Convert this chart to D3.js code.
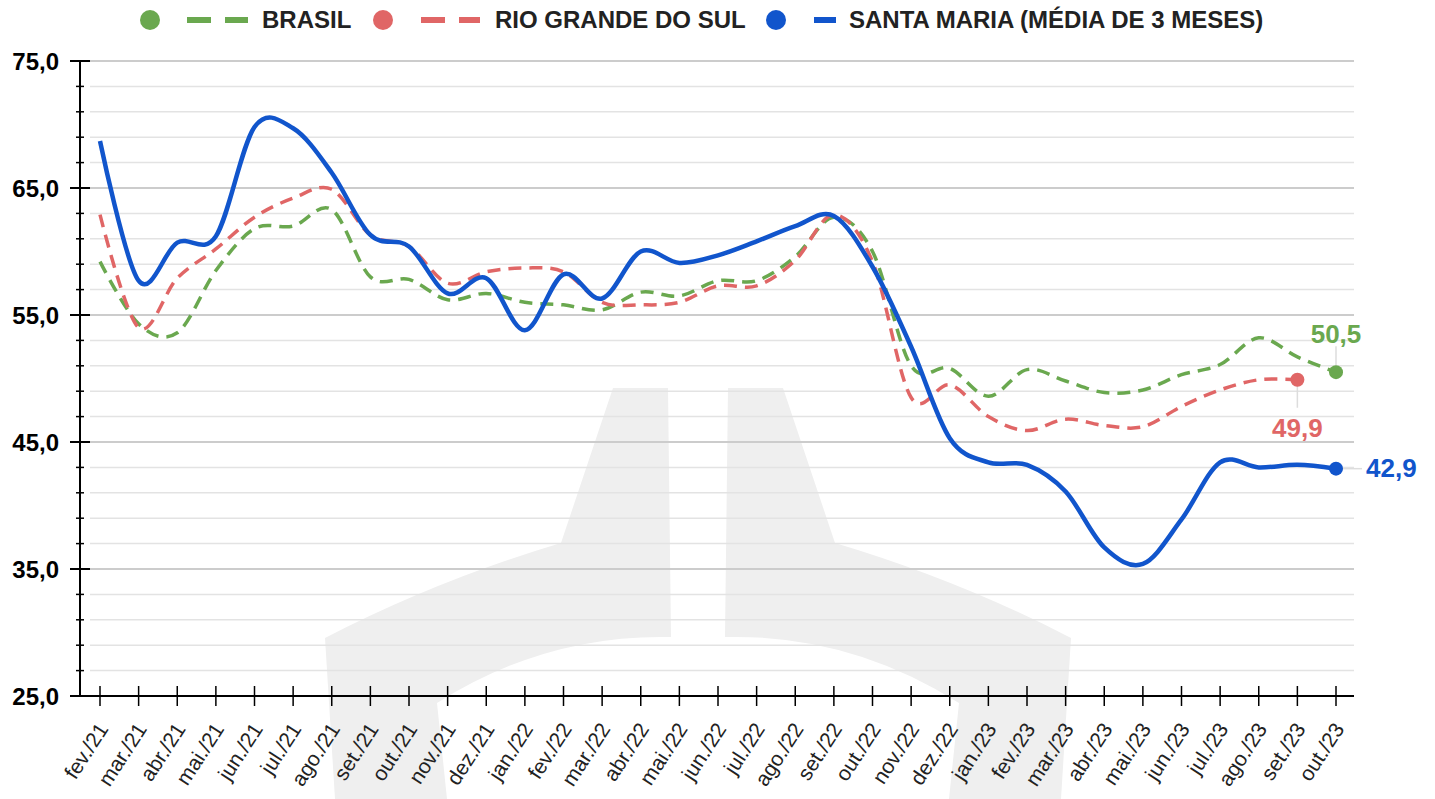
<!DOCTYPE html>
<html>
<head>
<meta charset="utf-8">
<script src="https://cdn.jsdelivr.net/npm/d3@7"></script>
<style>
  body { margin: 0; background: #fff; }
  svg { display: block; font-family: "Liberation Sans", Arial, sans-serif; }
</style>
</head>
<body>
<div id="chart"></div>
<script>
var months = ["fev./21","mar./21","abr./21","mai./21","jun./21","jul./21","ago./21","set./21","out./21","nov./21","dez./21",
  "jan./22","fev./22","mar./22","abr./22","mai./22","jun./22","jul./22","ago./22","set./22","out./22","nov./22","dez./22",
  "jan./23","fev./23","mar./23","abr./23","mai./23","jun./23","jul./23","ago./23","set./23","out./23"];

var brasil = [59.2,54.3,53.6,58.5,61.8,62.0,63.3,58.0,57.8,56.2,56.7,56.0,55.8,55.4,56.8,56.5,57.7,57.7,59.6,62.7,60.0,
  51.0,50.8,48.6,50.7,49.8,48.9,49.1,50.3,51.1,53.2,51.7,50.5];

var rioGrande = [62.9,54.0,57.9,60.2,62.7,64.2,64.9,61.3,60.4,57.5,58.4,58.7,58.4,56.0,55.8,56.0,57.3,57.3,59.3,62.9,59.2,
  48.5,49.5,47.0,45.9,46.8,46.3,46.2,47.8,49.1,49.9,49.9];

var santaMaria = [68.7,57.7,60.7,61.2,69.8,69.7,66.2,61.3,60.4,56.7,57.9,53.8,58.2,56.3,60.0,59.1,59.7,60.8,62.0,62.8,58.8,
  52.5,45.3,43.4,43.2,41.1,36.7,35.4,38.9,43.4,43.0,43.2,42.9];

var yMajor = [25,35,45,55,65,75];

var series = [
  {name: "BRASIL", values: brasil, color: "#6aa84f", dash: "13,8", width: 3.5},
  {name: "RIO GRANDE DO SUL", values: rioGrande, color: "#e06666", dash: "13,8", width: 3.5},
  {name: "SANTA MARIA (MÉDIA DE 3 MESES)", values: santaMaria, color: "#1155cc", dash: null, width: 4.5}
];

var width = 1435, height = 799;
var svg = d3.select("#chart").append("svg")
  .attr("width", width)
  .attr("height", height);

var x = d3.scalePoint().domain(months).range([100, 1336]);
var y = d3.scaleLinear().domain([25, 75]).range([696, 61]);
var fmt = function(v) { return d3.format(".1f")(v).replace(".", ","); };

// watermark in the background
var wm = svg.append("g").attr("fill", "#efefef");
wm.append("path")
  .attr("d", "M613,388 L668,388 L671,637 Q546,634 437,703 L447,799 L335,799 L325,638 Q437,580 561,543 Z");
wm.append("path")
  .attr("d", "M783,388 L728,388 L725,637 Q850,634 959,703 L949,799 L1061,799 L1071,638 Q959,580 835,543 Z");

// grid lines
var minor = d3.range(27, 75, 2).filter(function(v) { return (v - 25) % 10 != 0; });
svg.append("g").selectAll("line").data(minor).enter().append("line")
  .attr("x1", 90).attr("x2", 1354)
  .attr("y1", function(d) { return y(d); }).attr("y2", function(d) { return y(d); })
  .attr("stroke", "#e3e3e3").attr("stroke-width", 1.5);
svg.append("g").selectAll("line").data(yMajor.slice(1)).enter().append("line")
  .attr("x1", 90).attr("x2", 1354)
  .attr("y1", function(d) { return y(d); }).attr("y2", function(d) { return y(d); })
  .attr("stroke", "#cccccc").attr("stroke-width", 1.8);

// y axis
var yAxis = svg.append("g");
yAxis.append("line").attr("x1", 80).attr("x2", 80).attr("y1", y(75)).attr("y2", y(25))
  .attr("stroke", "#000").attr("stroke-width", 2);
yAxis.selectAll(".minor").data(minor).enter().append("line")
  .attr("x1", 76).attr("x2", 84)
  .attr("y1", function(d) { return y(d); }).attr("y2", function(d) { return y(d); })
  .attr("stroke", "#000").attr("stroke-width", 1.5);
yAxis.selectAll(".major").data(yMajor).enter().append("line")
  .attr("x1", 70).attr("x2", 90)
  .attr("y1", function(d) { return y(d); }).attr("y2", function(d) { return y(d); })
  .attr("stroke", "#000").attr("stroke-width", 2);
yAxis.selectAll("text").data(yMajor).enter().append("text")
  .attr("x", 59).attr("y", function(d) { return y(d); }).attr("dy", "0.36em")
  .attr("text-anchor", "end").attr("font-size", "24px").attr("font-weight", "bold").attr("fill", "#000")
  .text(fmt);

// x axis
var xAxis = svg.append("g");
xAxis.append("line").attr("x1", 70).attr("x2", 1354).attr("y1", y(25)).attr("y2", y(25))
  .attr("stroke", "#000").attr("stroke-width", 2);
xAxis.selectAll(".tick").data(months).enter().append("line")
  .attr("x1", function(d) { return x(d); }).attr("x2", function(d) { return x(d); })
  .attr("y1", y(25) - 10).attr("y2", y(25) + 10)
  .attr("stroke", "#000").attr("stroke-width", 1.5);
xAxis.selectAll("text").data(months).enter().append("text")
  .attr("transform", function(d) { return "translate(" + (x(d) + 9) + "," + 729 + ") rotate(-57)"; })
  .attr("text-anchor", "end").attr("font-size", "21px").attr("fill", "#222")
  .text(function(d) { return d; });

// lines
var line = d3.line()
  .x(function(d, i) { return x(months[i]); })
  .y(function(d) { return y(d); })
  .curve(d3.curveCardinal.tension(0));

series.forEach(function(s) {
  svg.append("path")
    .datum(s.values)
    .attr("fill", "none")
    .attr("stroke", s.color)
    .attr("stroke-width", s.width)
    .attr("stroke-dasharray", s.dash)
    .attr("stroke-linejoin", "round")
    .attr("d", line);
});

// end points with labels
var ends = [
  {s: series[0], dx: 0, dy: -1},
  {s: series[1], dx: 0, dy: 1},
  {s: series[2], dx: 1, dy: 0}
];
ends.forEach(function(e) {
  var n = e.s.values.length - 1;
  var px = x(months[n]), py = y(e.s.values[n]);
  var g = svg.append("g");
  if (e.dy < 0) {
    g.append("line").attr("x1", px).attr("x2", px).attr("y1", py - 4).attr("y2", py - 26).attr("stroke", "#ddd").attr("stroke-width", 1.5);
    g.append("text").attr("x", px).attr("y", py - 29).attr("text-anchor", "middle");
  } else if (e.dy > 0) {
    g.append("line").attr("x1", px).attr("x2", px).attr("y1", py + 4).attr("y2", py + 28).attr("stroke", "#ddd").attr("stroke-width", 1.5);
    g.append("text").attr("x", px).attr("y", py + 57).attr("text-anchor", "middle");
  } else {
    g.append("line").attr("x1", px + 4).attr("x2", px + 26).attr("y1", py).attr("y2", py).attr("stroke", "#ddd").attr("stroke-width", 1.5);
    g.append("text").attr("x", px + 30).attr("y", py + 8.5).attr("text-anchor", "start");
  }
  g.select("text").attr("font-size", "26px").attr("font-weight", "bold").attr("fill", e.s.color)
    .text(fmt(e.s.values[n]));
  g.append("circle").attr("cx", px).attr("cy", py).attr("r", 7).attr("fill", e.s.color);
});

// legend
var legendPos = [
  {cx: 150, lx1: 187, lx2: 248, tx: 262},
  {cx: 383, lx1: 421, lx2: 480, tx: 495},
  {cx: 776, lx1: 814, lx2: 836, tx: 849}
];
series.forEach(function(s, i) {
  var p = legendPos[i];
  var g = svg.append("g");
  g.append("circle").attr("cx", p.cx).attr("cy", 20).attr("r", 10).attr("fill", s.color);
  g.append("line").attr("x1", p.lx1).attr("x2", p.lx2).attr("y1", 20).attr("y2", 20)
    .attr("stroke", s.color).attr("stroke-width", 6)
    .attr("stroke-dasharray", s.dash ? "24,14" : null);
  g.append("text").attr("x", p.tx).attr("y", 28)
    .attr("font-size", "24px").attr("font-weight", "bold").attr("fill", "#222")
    .text(s.name);
});
</script>
</body>
</html>
